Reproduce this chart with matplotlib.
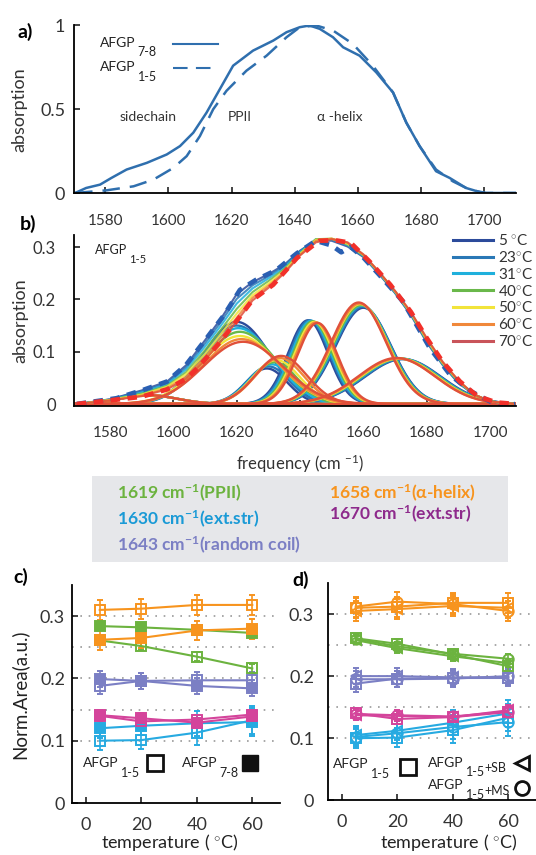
import numpy as np
import matplotlib
matplotlib.use('Agg')
import matplotlib.pyplot as plt
from matplotlib.patches import Rectangle
from matplotlib.lines import Line2D

plt.rcParams['font.family'] = ['Lato', 'DejaVu Sans']
plt.rcParams['mathtext.fontset'] = 'custom'
plt.rcParams['mathtext.rm'] = 'Lato'
plt.rcParams['mathtext.bf'] = 'Lato:bold'
plt.rcParams['mathtext.it'] = 'Lato:italic'

# ---------------- panel a data ----------------
freq_78 = [1570.5, 1574, 1578.4, 1582, 1586.8, 1593.2, 1599.5, 1603.7, 1607.9, 1612.1,
           1616.3, 1620.5, 1626.8, 1633.2, 1637.4, 1641.6, 1644.7, 1647.9, 1652.1, 1655.3,
           1660.5, 1665.8, 1671.1, 1675.3, 1679.5, 1684.7, 1689.0, 1694.2, 1699.5, 1710]
abs_78 = [0.0, 0.03, 0.05, 0.09, 0.14, 0.18, 0.23, 0.28, 0.36, 0.48,
          0.62, 0.76, 0.85, 0.91, 0.96, 0.99, 1.0, 0.98, 0.93, 0.87,
          0.82, 0.72, 0.60, 0.42, 0.28, 0.13, 0.09, 0.03, 0.0, 0.0]
freq_15 = [1570.5, 1580.5, 1589, 1595.3, 1601.6, 1605.8, 1610, 1614.2, 1618.4, 1624.7,
           1631.1, 1637.4, 1641.6, 1646.8, 1652.1, 1658.4, 1664.7, 1671.1, 1675.3, 1679.5,
           1684.7, 1690, 1695.3, 1700.5, 1710]
abs_15 = [0.0, 0.016, 0.04, 0.08, 0.15, 0.22, 0.34, 0.50, 0.61, 0.73,
          0.82, 0.93, 0.99, 1.0, 0.97, 0.89, 0.76, 0.60, 0.42, 0.28,
          0.14, 0.07, 0.02, 0.0, 0.0]

# ---------------- panel b data ----------------
temps_b = [5, 23, 31, 40, 50, 60, 70]
temp_colors = ['#2c4b9b', '#2a78b6', '#1fb0dc', '#6ab84a', '#f2e43a', '#f0883a', '#e0503a']
legend_colors = ['#2c4b9b', '#2a78b6', '#1fb0dc', '#6ab84a', '#f2e43a', '#f0883a', '#c9545a']
# gaussian fit components (rows: sidechain, 1619, 1630, 1643, 1658, 1670), columns: temperatures
comp_center = [[1592, 1592, 1592, 1592, 1592, 1592, 1592],
               [1620.0, 1620.0, 1620.5, 1621.0, 1621.0, 1621.5, 1622.0],
               [1629.5, 1630.0, 1631.0, 1632.0, 1632.5, 1633.5, 1634.0],
               [1642.5, 1643.0, 1643.5, 1644.0, 1644.5, 1645.0, 1645.5],
               [1660.0, 1659.8, 1659.5, 1659.3, 1659.0, 1658.8, 1658.5],
               [1672.5, 1672.2, 1671.8, 1671.5, 1671.2, 1670.8, 1670.5]]
comp_height = [[0.017, 0.017, 0.017, 0.017, 0.017, 0.017, 0.017],
               [0.157, 0.150, 0.145, 0.138, 0.130, 0.124, 0.119],
               [0.068, 0.072, 0.076, 0.080, 0.084, 0.088, 0.092],
               [0.160, 0.160, 0.159, 0.158, 0.157, 0.156, 0.155],
               [0.184, 0.186, 0.188, 0.189, 0.191, 0.192, 0.194],
               [0.086, 0.086, 0.087, 0.087, 0.087, 0.087, 0.088]]
comp_width = [[9, 9, 9, 9, 9, 9, 9],
              [10.5, 11.0, 11.0, 11.5, 12.0, 12.0, 12.5],
              [6.5, 6.8, 7.0, 7.2, 7.5, 7.7, 8.0],
              [6.3, 6.3, 6.3, 6.3, 6.3, 6.3, 6.3],
              [8.7, 8.7, 8.7, 8.7, 8.7, 8.7, 8.7],
              [12.0, 12.0, 12.0, 12.0, 12.0, 12.0, 12.0]]

env_freq = [1570, 1580, 1590, 1598, 1604, 1610, 1615, 1620, 1625, 1630, 1635, 1640, 1645,
            1650, 1655, 1660, 1665, 1670, 1675, 1680, 1685, 1690, 1695, 1700, 1708]
env_vals = [
    [0, 0.009, 0.026, 0.043, 0.074, 0.122, 0.163, 0.210, 0.233, 0.248, 0.266, 0.293, 0.313,
     0.312, 0.301, 0.281, 0.248, 0.212, 0.170, 0.118, 0.075, 0.040, 0.018, 0.005, 0],
    [0, 0.009, 0.024, 0.040, 0.070, 0.116, 0.157, 0.201, 0.227, 0.244, 0.264, 0.292, 0.314,
     0.314, 0.303, 0.282, 0.249, 0.213, 0.171, 0.120, 0.076, 0.041, 0.018, 0.005, 0],
    [0, 0.008, 0.022, 0.038, 0.066, 0.110, 0.150, 0.192, 0.221, 0.240, 0.261, 0.290, 0.315,
     0.315, 0.304, 0.283, 0.250, 0.214, 0.172, 0.121, 0.077, 0.042, 0.018, 0.005, 0],
    [0, 0.008, 0.020, 0.035, 0.061, 0.103, 0.142, 0.182, 0.214, 0.235, 0.258, 0.288, 0.315,
     0.316, 0.305, 0.284, 0.251, 0.215, 0.173, 0.122, 0.078, 0.043, 0.018, 0.005, 0],
    [0, 0.008, 0.018, 0.033, 0.057, 0.096, 0.134, 0.173, 0.208, 0.230, 0.255, 0.287, 0.314,
     0.316, 0.306, 0.285, 0.251, 0.215, 0.174, 0.123, 0.079, 0.044, 0.018, 0.005, 0],
    [0, 0.007, 0.016, 0.030, 0.052, 0.090, 0.127, 0.165, 0.203, 0.226, 0.252, 0.285, 0.312,
     0.316, 0.308, 0.285, 0.252, 0.216, 0.175, 0.125, 0.080, 0.045, 0.018, 0.005, 0],
    [0, 0.007, 0.015, 0.028, 0.048, 0.084, 0.120, 0.158, 0.198, 0.222, 0.250, 0.284, 0.309,
     0.315, 0.309, 0.286, 0.252, 0.216, 0.176, 0.126, 0.081, 0.045, 0.018, 0.005, 0]]

data5_freq = [1569.5, 1582, 1590.5, 1598, 1604, 1610.5, 1616, 1621, 1626, 1632.5, 1639, 1645,
              1650, 1653, 1656, 1660, 1665, 1672.5, 1681, 1687.5, 1694, 1700, 1703, 1708]
data5_abs = [0, 0.011, 0.027, 0.043, 0.075, 0.126, 0.170, 0.218, 0.237, 0.256, 0.288, 0.312,
             0.303, 0.290, 0.300, 0.280, 0.247, 0.196, 0.107, 0.055, 0.024, 0.005, -0.006, 0]
data70_freq = [1569.5, 1580, 1590, 1598, 1604, 1607.5, 1614, 1619, 1625, 1631.5, 1639, 1646,
               1651, 1656, 1662, 1668.5, 1675, 1680, 1685, 1690.5, 1696, 1702, 1708]
data70_abs = [0, 0.007, 0.014, 0.028, 0.048, 0.068, 0.113, 0.151, 0.199, 0.228, 0.279, 0.312,
              0.313, 0.308, 0.272, 0.228, 0.176, 0.126, 0.081, 0.043, 0.015, 0.003, 0]

# ---------------- panel c / d data ----------------
temps_cd = [5, 20, 40, 60]
col_orange, col_green, col_lav, col_mag, col_cyan = '#f7941e', '#6cb33f', '#7b7fc4', '#d4449b', '#27aae1'

orange_15 = [0.310, 0.312, 0.318, 0.318]
orange_78 = [0.262, 0.265, 0.277, 0.280]
green_15 = [0.261, 0.252, 0.235, 0.216]
green_78 = [0.284, 0.282, 0.278, 0.273]
lav_15 = [0.188, 0.196, 0.197, 0.197]
lav_78 = [0.199, 0.196, 0.188, 0.184]
mag_15 = [0.140, 0.131, 0.134, 0.142]
mag_78 = [0.141, 0.136, 0.129, 0.139]
cyan_15 = [0.100, 0.101, 0.113, 0.133]
cyan_78 = [0.120, 0.124, 0.128, 0.130]

err_orange = [0.016, 0.016, 0.016, 0.016]
err_green = [0.007, 0.007, 0.007, 0.007]
err_lav = [0.013, 0.013, 0.013, 0.013]
err_mag = [0.008, 0.008, 0.008, 0.008]
err_cyan = [0.015, 0.015, 0.020, 0.022]

orange_sb = [0.305, 0.308, 0.313, 0.310]
orange_ms = [0.312, 0.320, 0.316, 0.305]
green_sb = [0.258, 0.245, 0.232, 0.221]
green_ms = [0.260, 0.248, 0.236, 0.228]
lav_sb = [0.200, 0.200, 0.198, 0.198]
lav_ms = [0.195, 0.195, 0.196, 0.200]
mag_sb = [0.137, 0.136, 0.134, 0.145]
mag_ms = [0.139, 0.137, 0.135, 0.143]
cyan_sb = [0.105, 0.112, 0.125, 0.140]
cyan_ms = [0.102, 0.108, 0.118, 0.126]

box_lines = [(r'1619 cm$^{\mathbf{-1}}$(PPII)', '#6cb33f'),
             (r'1630 cm$^{\mathbf{-1}}$(ext.str)', '#1a9ad6'),
             (r'1643 cm$^{\mathbf{-1}}$(random coil)', '#7b7fc4'),
             (r'1658 cm$^{\mathbf{-1}}$(α-helix)', '#f7941e'),
             (r'1670 cm$^{\mathbf{-1}}$(ext.str)', '#8e2a8c')]

W, H = 536, 855
fig = plt.figure(figsize=(W / 100, H / 100), dpi=100)


def axes_px(x0, y0, x1, y1):
    return fig.add_axes([x0 / W, 1 - y1 / H, (x1 - x0) / W, (y1 - y0) / H])


def sub_text(ax, x, y, main, sub, size, extra=None):
    t = ax.text(x, y, main, transform=ax.transAxes, fontsize=size, va='center', color='#222')
    s = ax.annotate(sub, xy=(1, 0), xycoords=t, xytext=(1.5, -size * 0.25),
                    textcoords='offset points', fontsize=size * 0.9, va='center', color='#222')
    if extra:
        ax.annotate(extra, xy=(1, 1), xycoords=s, xytext=(0, -size * 0.15),
                    textcoords='offset points', fontsize=size * 0.9, va='center', color='#222')
    return t


def style(ax):
    for sp in ['top', 'right']:
        ax.spines[sp].set_visible(False)
    ax.spines['left'].set_linewidth(1.3)
    ax.spines['bottom'].set_linewidth(1.3)
    ax.tick_params(direction='in', length=4, width=1.2, colors='#222', labelcolor='#333')


blue = '#2f6fae'

# ---------- panel a ----------
ax_a = axes_px(73.5, 25.5, 516, 193)
ax_a.plot(freq_78, abs_78, color=blue, lw=1.8)
ax_a.plot(freq_15, abs_15, color=blue, lw=1.8, dashes=(7, 4))
ax_a.set_xlim(1570, 1710)
ax_a.set_ylim(0, 1)
ax_a.set_xticks([1580, 1600, 1620, 1640, 1660, 1680, 1700])
ax_a.set_yticks([0, 0.5, 1])
ax_a.set_yticklabels(['0', '0.5', '1'])
style(ax_a)
ax_a.tick_params(axis='x', labelsize=11, pad=15)
ax_a.tick_params(axis='y', labelsize=13, pad=6)
ax_a.set_ylabel('absorption', fontsize=13, color='#333')
ax_a.yaxis.set_label_coords(-0.105, 0.5)
ax_a.plot([0.225, 0.327], [0.889, 0.889], transform=ax_a.transAxes, color=blue, lw=1.5)
ax_a.plot([0.225, 0.327], [0.746, 0.746], transform=ax_a.transAxes, color=blue, lw=1.5,
          dashes=(7, 4))
sub_text(ax_a, 0.06, 0.896, 'AFGP', '7-8', 10)
sub_text(ax_a, 0.06, 0.752, 'AFGP', '1-5', 10)
ax_a.text(0.168, 0.454, 'sidechain', transform=ax_a.transAxes, ha='center', va='center',
          fontsize=10, color='#333')
ax_a.text(0.376, 0.454, 'PPII', transform=ax_a.transAxes, ha='center', va='center',
          fontsize=10, color='#333')
ax_a.text(0.602, 0.454, 'α -helix', transform=ax_a.transAxes, ha='center', va='center',
          fontsize=10, color='#333')

# ---------- panel b ----------
ax_b = axes_px(74, 235, 516, 405.6)
fgrid = np.linspace(1566, 1712, 700)
for j, T in enumerate(temps_b):
    for k in range(len(comp_center)):
        c, h, s = comp_center[k][j], comp_height[k][j], comp_width[k][j]
        ax_b.plot(fgrid, h * np.exp(-(fgrid - c) ** 2 / (2 * s ** 2)), color=temp_colors[j],
                  lw=1.7, solid_capstyle='butt')
for j, T in enumerate(temps_b):
    ax_b.plot(env_freq, env_vals[j], color=temp_colors[j], lw=1.5, alpha=0.85)
ax_b.plot(data5_freq, data5_abs, color='#2a5fb2', lw=3.4, dashes=(2.0, 1.6))
ax_b.plot(data70_freq, data70_abs, color='#f2302a', lw=3.4, dashes=(2.0, 1.6))
ax_b.set_xlim(1568.6, 1708.2)
ax_b.set_ylim(-0.003, 0.323)
ax_b.set_xticks([1580, 1600, 1620, 1640, 1660, 1680, 1700])
ax_b.set_yticks([0, 0.1, 0.2, 0.3])
ax_b.set_yticklabels(['0', '0.1', '0.2', '0.3'])
style(ax_b)
ax_b.tick_params(axis='x', labelsize=11, pad=15)
ax_b.tick_params(axis='y', labelsize=12, pad=13)
ax_b.set_ylabel('absorption', fontsize=13, color='#333')
ax_b.yaxis.set_label_coords(-0.104, 0.5)
ax_b.set_xlabel('frequency (cm $^{-1}$)', fontsize=12, color='#333')
ax_b.xaxis.set_label_coords(0.511, -0.275)
sub_text(ax_b, 0.048, 0.912, 'AFGP', '1-5', 9)
handles = [Line2D([], [], color=col, lw=2.2) for col in legend_colors]
labels = ['5 $^{\\circ}$C'] + ['%d$^{\\circ}$C' % T for T in temps_b[1:]]
ax_b.legend(handles, labels, loc='upper left', bbox_to_anchor=(0.855, 1.02), frameon=False,
            fontsize=11, handlelength=2.6, handletextpad=0.3, labelspacing=0.12,
            borderaxespad=0, borderpad=0.1, labelcolor='#333')

# ---------- gray box ----------
fig.patches.append(Rectangle((92 / W, 1 - 562 / H), (508 - 92) / W, (562 - 476) / H,
                             transform=fig.transFigure, facecolor='#e6e7ea', edgecolor='none'))
box_pos = [(117, 493), (117, 519), (117, 545), (329, 493), (329, 514)]
for (txt, col), (px, py) in zip(box_lines, box_pos):
    fig.text(px / W, 1 - py / H, txt, color=col, fontsize=12.5, fontweight='bold',
             va='center', ha='left')


# ---------- panels c and d ----------
def cd_axes(x0, y0, x1, y1):
    ax = axes_px(x0, y0, x1, y1)
    for yv in [0.1, 0.15, 0.2, 0.25, 0.3]:
        ax.axhline(yv, color='#9a9a9a', lw=1.2, ls=(0, (1, 4)), zorder=0)
    ax.set_xlim(-5, 70)
    ax.set_ylim(0, 0.35)
    ax.set_xticks([0, 20, 40, 60])
    ax.set_yticks([0, 0.1, 0.2, 0.3])
    ax.set_yticklabels(['0', '0.1', '0.2', '0.3'])
    style(ax)
    ax.tick_params(labelsize=13)
    ax.tick_params(axis='x', pad=10)
    return ax


def series(ax, vals, err, col, marker, filled, ms=7.5):
    ax.errorbar(temps_cd, vals, yerr=err, color=col, lw=1.5, marker=marker, ms=ms,
                mfc=col if filled else 'none', mec=col, mew=1.4, capsize=2.5, elinewidth=1.2,
                capthick=1.2)


ax_c = cd_axes(72, 585, 280, 803)
for v15, v78, e, col in [(cyan_15, cyan_78, err_cyan, col_cyan),
                         (mag_15, mag_78, err_mag, col_mag),
                         (lav_15, lav_78, err_lav, col_lav),
                         (green_15, green_78, err_green, col_green),
                         (orange_15, orange_78, err_orange, col_orange)]:
    series(ax_c, v78, e, col, 's', True)
    series(ax_c, v15, e, col, 's', False)
ax_c.tick_params(axis='y', pad=5)
ax_c.set_ylabel('Norm.Area(a.u.)', fontsize=13.5, color='#222')
ax_c.yaxis.set_label_coords(-0.21, 0.5)
ax_c.set_xlabel('temperature ( $^{\\circ}$C)', fontsize=13, color='#222')
ax_c.xaxis.set_label_coords(0.47, -0.135)
sub_text(ax_c, 0.053, 0.183, 'AFGP', '1-5', 10)
ax_c.plot([0.399], [0.183], transform=ax_c.transAxes, marker='s', ms=11, mfc='none', mec='#111',
          mew=2, clip_on=False)
sub_text(ax_c, 0.53, 0.183, 'AFGP', '7-8', 10)
ax_c.plot([0.856], [0.183], transform=ax_c.transAxes, marker='s', ms=12, mfc='#111', mec='#111',
          clip_on=False)

ax_d = cd_axes(328, 583, 536, 800.3)
for v15, vsb, vms, e, col in [(cyan_15, cyan_sb, cyan_ms, err_cyan, col_cyan),
                              (mag_15, mag_sb, mag_ms, err_mag, col_mag),
                              (lav_15, lav_sb, lav_ms, err_lav, col_lav),
                              (green_15, green_sb, green_ms, err_green, col_green),
                              (orange_15, orange_sb, orange_ms, err_orange, col_orange)]:
    series(ax_d, v15, e, col, 's', False)
    series(ax_d, vsb, e, col, '<', False)
    series(ax_d, vms, e, col, 'o', False)
ax_d.tick_params(axis='y', pad=10)
ax_d.tick_params(axis='x', pad=10)
ax_d.set_xlabel('temperature ( $^{\\circ}$C)', fontsize=13, color='#222')
ax_d.xaxis.set_label_coords(0.58, -0.148)
sub_text(ax_d, 0.024, 0.165, 'AFGP', '1-5', 10)
ax_d.plot([0.385], [0.152], transform=ax_d.transAxes, marker='s', ms=11, mfc='none', mec='#111',
          mew=2, clip_on=False)
sub_text(ax_d, 0.481, 0.172, 'AFGP', '1-5', 10, extra='+SB')
ax_d.plot([0.935], [0.172], transform=ax_d.transAxes, marker='<', ms=10, mfc='none', mec='#111',
          mew=2, clip_on=False)
sub_text(ax_d, 0.481, 0.069, 'AFGP', '1-5', 10, extra='+MS')
ax_d.plot([0.935], [0.055], transform=ax_d.transAxes, marker='o', ms=10, mfc='none', mec='#111',
          mew=2, clip_on=False)

# ---------- panel labels ----------
for lab, px, py in [('a)', 17, 32), ('b)', 20, 224), ('c)', 13, 577), ('d)', 292, 580)]:
    fig.text(px / W, 1 - py / H, lab, fontsize=14, fontweight='bold', va='center', ha='left')

fig.savefig('out.png', dpi=100)
